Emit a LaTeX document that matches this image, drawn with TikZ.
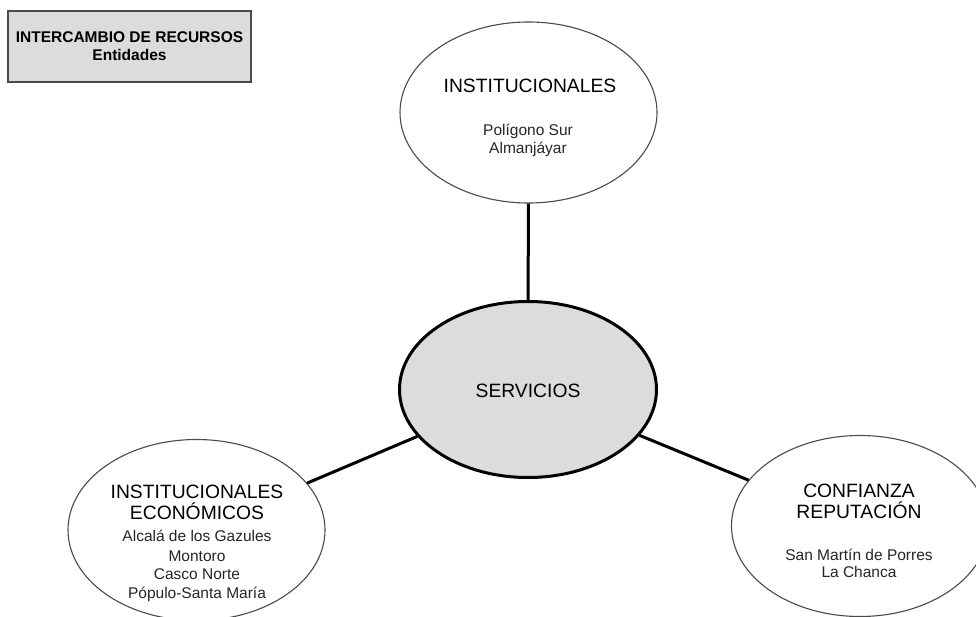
\documentclass[tikz,border=0pt]{standalone}
\usepackage{fontspec}
\setmainfont{Liberation Sans}
\usetikzlibrary{shapes.geometric}
\definecolor{boxgray}{HTML}{DCDCDC}
\definecolor{edgegray}{HTML}{4A4A4A}
\begin{document}
\begin{tikzpicture}[x=1pt,y=-1pt,
  ell/.style={ellipse, draw=edgegray, line width=1.1pt, fill=white,
    minimum width=257pt, minimum height=181pt, inner sep=0pt},
  cen/.style={ellipse, draw=black, line width=3pt, fill=boxgray,
    minimum width=257pt, minimum height=176pt, inner sep=0pt},
  link/.style={line width=3pt, draw=black},
  hdrbox/.style={rectangle, draw=edgegray, line width=1.3pt, fill=boxgray,
    minimum width=243pt, minimum height=71pt, inner sep=0pt, align=center,
    font=\bfseries\fontsize{15.5}{18}\selectfont},
  ttl/.style={font=\fontsize{19.3}{20}\selectfont, anchor=base, inner sep=0pt},
  sub/.style={font=\fontsize{15.5}{18}\selectfont, anchor=base, inner sep=0pt, text=black!85}]
\useasboundingbox (0,0) rectangle (976,617);

% header box
\node[hdrbox] (hdr) at (129.5,46.5) {INTERCAMBIO DE RECURSOS\\Entidades};

% ellipses
\node[ell] (top) at (528.5,112.5) {};
\node[cen] (srv) at (528,389.5) {};
\node[ell] (bl) at (196.5,530) {};
\node[ell] (br) at (860,526) {};

% connectors
\draw[link] (top) -- (srv);
\draw[link] (srv) -- (bl);
\draw[link] (srv) -- (br);

% texts top
\node[ttl] (t1) at (530,93) {INSTITUCIONALES};
\node[sub] (t2) at (528,136) {Polígono Sur};
\node[sub] (t3) at (528,154) {Almanjáyar};

% centre
\node[ttl] (s1) at (528,397) {SERVICIOS};

% bottom left
\node[ttl] (l1) at (197,498) {INSTITUCIONALES};
\node[ttl] (l2) at (197,519.5) {ECONÓMICOS};
\node[sub] (l3) at (197,541.5) {Alcalá de los Gazules};
\node[sub] (l4) at (197,561) {Montoro};
\node[sub] (l5) at (197,579) {Casco Norte};
\node[sub] (l6) at (197,598) {Pópulo-Santa María};

% bottom right
\node[ttl] (r1) at (859,497) {CONFIANZA};
\node[ttl] (r2) at (859,518) {REPUTACIÓN};
\node[sub] (r3) at (859,560) {San Martín de Porres};
\node[sub] (r4) at (859,577) {La Chanca};
\end{tikzpicture}
\end{document}
